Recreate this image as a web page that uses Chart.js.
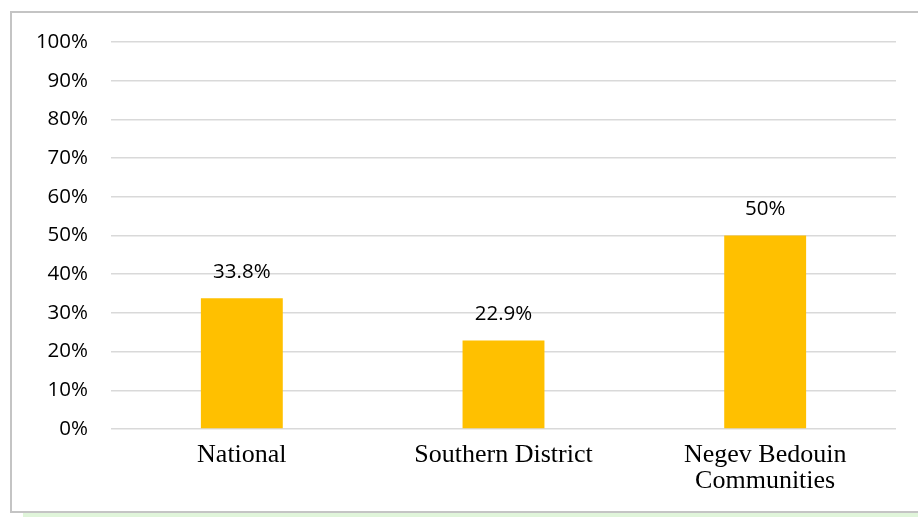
<!DOCTYPE html>
<html>
<head>
<meta charset="utf-8">
<script src="https://cdn.jsdelivr.net/npm/chart.js@4"></script>
<style>
  html, body { margin: 0; padding: 0; background: #fff; }
  #wrap { position: relative; width: 918px; height: 517px; overflow: hidden; }
  #frame { position: absolute; left: 10px; top: 11px; width: 920px; height: 498px;
           border-left: 2px solid #c4c4c4; border-top: 2px solid #c4c4c4; border-bottom: 2px solid #c4c4c4; }
  #green { position: absolute; left: 23px; top: 513px; width: 900px; height: 4px; background: #e0f5da; }
  canvas { position: absolute; left: 0; top: 0; }
</style>
</head>
<body>
<div id="wrap">
  <div id="frame"></div>
  <div id="green"></div>
  <canvas id="myChart" width="918" height="517"></canvas>
</div>
<script>
const categories = [['National'], ['Southern District'], ['Negev Bedouin', 'Communities']];
const values = [33.8, 22.9, 50];
const valueLabels = ['33.8%', '22.9%', '50%'];
const barColor = '#FFC000';

const barLabels = {
    id: 'barLabels',
    afterDatasetsDraw(chart) {
        const ctx = chart.ctx;
        const meta = chart.getDatasetMeta(0);
        ctx.save();
        ctx.font = '20.5px "Open Sans"';
        ctx.fillStyle = '#000';
        ctx.textAlign = 'center';
        ctx.textBaseline = 'middle';
        meta.data.forEach((bar, i) => {
            ctx.fillText(valueLabels[i], bar.x, bar.y - 26);
        });
        ctx.restore();
    },
};

var ctx = document.getElementById('myChart').getContext('2d');

let myChart = new Chart(ctx, {
    type: 'bar',
    data: {
        labels: categories,
        datasets: [
            {
                data: values,
                backgroundColor: barColor,
                borderWidth: 0,
                barPercentage: 0.313,
                categoryPercentage: 1,
            },
        ],
    },
    options: {
        responsive: false,
        animation: false,
        layout: { padding: { left: 0, right: 22, top: 42, bottom: 0 } },
        plugins: { legend: { display: false }, tooltip: { enabled: false } },
        scales: {
            x: {
                grid: { display: false },
                border: { display: false },
                ticks: {
                    color: '#000',
                    padding: 5,
                    font: { family: '"Liberation Serif"', size: 26, lineHeight: 1.0 },
                    maxRotation: 0,
                },
                afterFit: (scale) => { scale.height = 88; },
            },
            y: {
                min: 0,
                max: 100,
                grid: { color: '#d9d9d9', lineWidth: 1.5, drawTicks: false },
                border: { display: false },
                ticks: {
                    stepSize: 10,
                    color: '#000',
                    padding: 23,
                    font: { family: '"Open Sans"', size: 20.5 },
                    callback: (v) => v + '%',
                },
                afterFit: (scale) => { scale.width = 111; },
            },
        },
    },
    plugins: [barLabels],
});
</script>
</body>
</html>
